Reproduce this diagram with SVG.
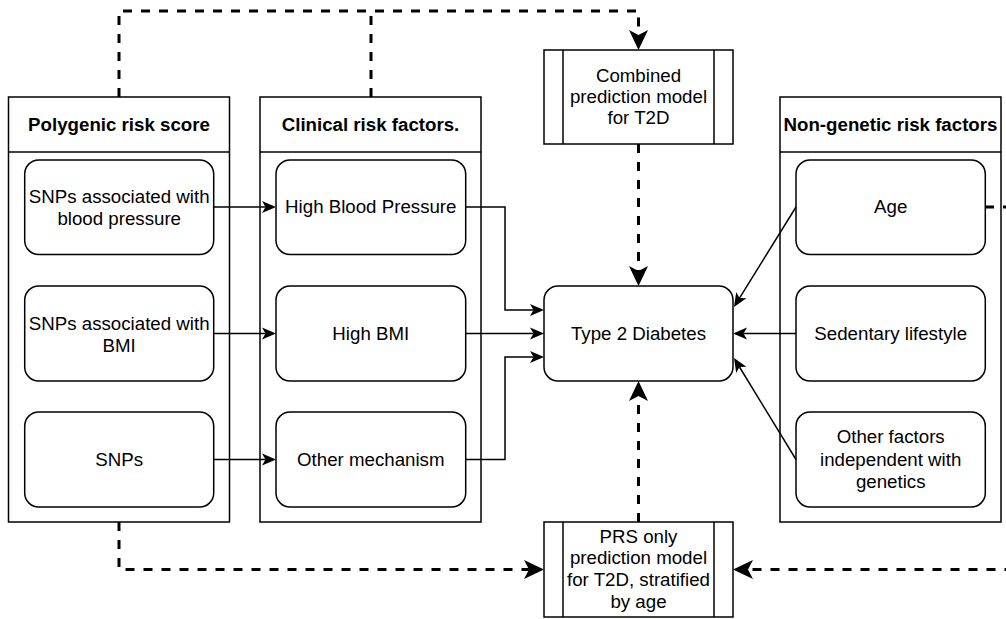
<svg xmlns="http://www.w3.org/2000/svg" width="1006" height="619" viewBox="0 0 1006 619">
<style>
  .box{fill:#fff;stroke:#000;stroke-width:1.5}
  .t{font-family:"Liberation Sans",Arial,Helvetica,sans-serif;font-size:18.7px;fill:#000;text-anchor:middle}
  .h{font-weight:bold}
  .sl{fill:none;stroke:#000;stroke-width:1.5}
  .dl{fill:none;stroke:#000;stroke-width:3;stroke-dasharray:9 9}
</style>
<defs>
  <marker id="as" markerUnits="userSpaceOnUse" markerWidth="20" markerHeight="20" refX="3.5" refY="0" orient="auto" overflow="visible">
    <path d="M0,-6 L14,0 L0,6 L3.5,0 Z" fill="#000"/>
  </marker>
  <marker id="ad" markerUnits="userSpaceOnUse" markerWidth="30" markerHeight="30" refX="5" refY="0" orient="auto" overflow="visible">
    <path d="M0,-9.5 L20,0 L0,9.5 L5,0 Z" fill="#000"/>
  </marker>
</defs>
<rect width="1006" height="619" fill="#fff"/>

<g id="polygenic">
  <rect class="box" x="8.5" y="97" width="221" height="425"/>
  <line class="sl" x1="8.5" y1="152" x2="229.5" y2="152"/>
  <text class="t h" x="119" y="131">Polygenic risk score</text>
</g>
<g id="snp-bp">
  <rect class="box" x="24.7" y="160" width="189" height="94.5" rx="14" ry="14"/>
  <text class="t" x="119.2" y="203">SNPs associated with</text>
  <text class="t" x="119.2" y="225">blood pressure</text>
</g>
<g id="snp-bmi">
  <rect class="box" x="24.7" y="286" width="189" height="95" rx="14" ry="14"/>
  <text class="t" x="119.2" y="330">SNPs associated with</text>
  <text class="t" x="119.2" y="352">BMI</text>
</g>
<g id="snps">
  <rect class="box" x="24.7" y="412" width="189" height="95" rx="14" ry="14"/>
  <text class="t" x="119.2" y="466">SNPs</text>
</g>

<g id="clinical">
  <rect class="box" x="260" y="97" width="221" height="425"/>
  <line class="sl" x1="260" y1="152" x2="481" y2="152"/>
  <text class="t h" x="370.5" y="131">Clinical risk factors.</text>
</g>
<g id="high-bp">
  <rect class="box" x="276" y="160" width="189.7" height="94.5" rx="14" ry="14"/>
  <text class="t" x="370.8" y="213">High Blood Pressure</text>
</g>
<g id="high-bmi">
  <rect class="box" x="276" y="286" width="189.7" height="95" rx="14" ry="14"/>
  <text class="t" x="370.8" y="339.5">High BMI</text>
</g>
<g id="other-mech">
  <rect class="box" x="276" y="412" width="189.7" height="95" rx="14" ry="14"/>
  <text class="t" x="370.8" y="466">Other mechanism</text>
</g>

<g id="nongenetic">
  <rect class="box" x="780" y="97" width="221" height="425"/>
  <line class="sl" x1="780" y1="152" x2="1001" y2="152"/>
  <text class="t h" x="890.5" y="131">Non-genetic risk factors</text>
</g>
<g id="age">
  <rect class="box" x="796" y="160" width="189.3" height="94.5" rx="14" ry="14"/>
  <text class="t" x="890.7" y="213">Age</text>
</g>
<g id="sedentary">
  <rect class="box" x="796" y="286" width="189.3" height="95" rx="14" ry="14"/>
  <text class="t" x="890.7" y="339.5">Sedentary lifestyle</text>
</g>
<g id="other-factors">
  <rect class="box" x="796" y="412" width="189.3" height="95" rx="14" ry="14"/>
  <text class="t" x="890.7" y="443">Other factors</text>
  <text class="t" x="890.7" y="465.5">independent with</text>
  <text class="t" x="890.7" y="488">genetics</text>
</g>

<g id="t2d">
  <rect class="box" x="544" y="286" width="189" height="95" rx="14" ry="14"/>
  <text class="t" x="638.5" y="339.5">Type 2 Diabetes</text>
</g>
<g id="combined">
  <rect class="box" x="544" y="50" width="189" height="94"/>
  <line class="sl" x1="563" y1="50" x2="563" y2="144"/>
  <line class="sl" x1="714" y1="50" x2="714" y2="144"/>
  <text class="t" x="638.5" y="82">Combined</text>
  <text class="t" x="638.5" y="103">prediction model</text>
  <text class="t" x="638.5" y="124">for T2D</text>
</g>
<g id="prs-only">
  <rect class="box" x="544" y="522" width="189" height="95"/>
  <line class="sl" x1="563" y1="522" x2="563" y2="617"/>
  <line class="sl" x1="714" y1="522" x2="714" y2="617"/>
  <text class="t" x="638.5" y="542.5">PRS only</text>
  <text class="t" x="638.5" y="564">prediction model</text>
  <text class="t" x="638.5" y="586">for T2D, stratified</text>
  <text class="t" x="638.5" y="607.5">by age</text>
</g>

<g id="connectors">
  <path class="sl" d="M213.7,207 H265.5" marker-end="url(#as)"/>
  <path class="sl" d="M213.7,333.5 H265.5" marker-end="url(#as)"/>
  <path class="sl" d="M213.7,459.5 H265.5" marker-end="url(#as)"/>
  <path class="sl" d="M465.7,207 H505 V310 H533.5" marker-end="url(#as)"/>
  <path class="sl" d="M465.7,333.5 H533.5" marker-end="url(#as)"/>
  <path class="sl" d="M465.7,459.5 H505 V357 H533.5" marker-end="url(#as)"/>
  <path class="sl" d="M796,207 L739.5,298.1" marker-end="url(#as)"/>
  <path class="sl" d="M796,333.5 H743.5" marker-end="url(#as)"/>
  <path class="sl" d="M796,459.5 L739.5,367" marker-end="url(#as)"/>
  <path class="dl" d="M119,97 V11 H638.5 V35" marker-end="url(#ad)"/>
  <path class="dl" d="M371,97 V11"/>
  <path class="dl" d="M638.5,144 V271" marker-end="url(#ad)"/>
  <path class="dl" d="M638.5,522 V396" marker-end="url(#ad)"/>
  <path class="dl" d="M119,522 V569.5 H529" marker-end="url(#ad)"/>
  <path class="dl" d="M985,207 H1025 V569.5 H748" marker-end="url(#ad)"/>
</g>
</svg>
